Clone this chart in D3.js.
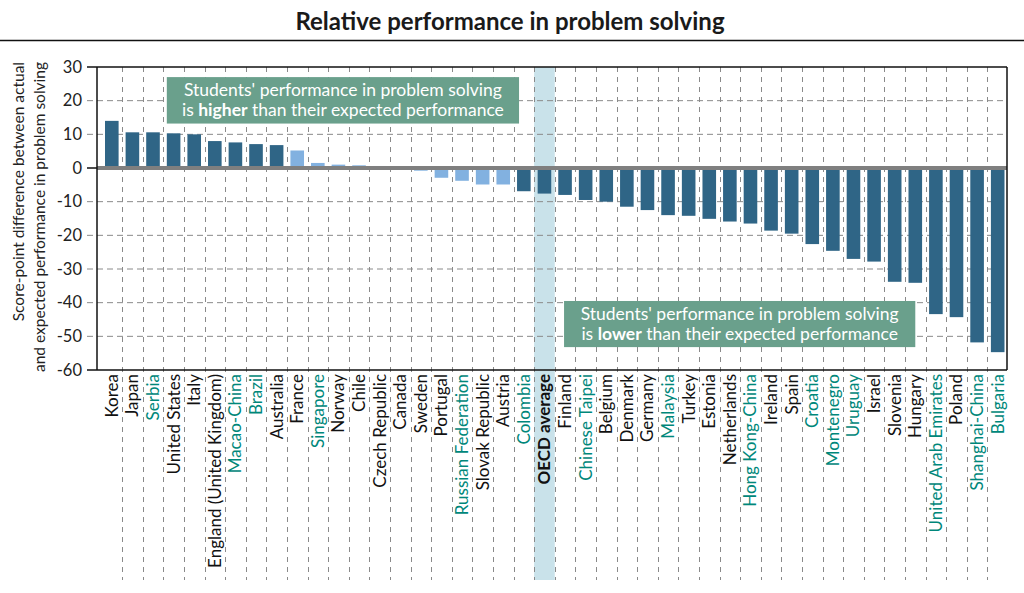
<!DOCTYPE html>
<html><head><meta charset="utf-8">
<script src="https://cdn.jsdelivr.net/npm/d3@7"></script>
<style>body{margin:0;background:#fff}svg{display:block;font-family:Lato,"Open Sans",sans-serif}</style>
</head><body><svg id="c" width="1024" height="593"></svg>
<script>
const categories = ["Korea","Japan","Serbia","United States","Italy","England (United Kingdom)","Macao-China","Brazil","Australia","France","Singapore","Norway","Chile","Czech Republic","Canada","Sweden","Portugal","Russian Federation","Slovak Republic","Austria","Colombia","OECD average","Finland","Chinese Taipei","Belgium","Denmark","Germany","Malaysia","Turkey","Estonia","Netherlands","Hong Kong-China","Ireland","Spain","Croatia","Montenegro","Uruguay","Israel","Slovenia","Hungary","United Arab Emirates","Poland","Shanghai-China","Bulgaria"];
const values = [14.0,10.6,10.6,10.3,10.0,8.0,7.6,7.1,6.8,5.2,1.5,1.0,0.8,0.6,0.1,-0.8,-2.9,-3.8,-4.9,-4.9,-6.9,-7.6,-8.0,-9.5,-10.0,-11.5,-12.5,-14.0,-14.2,-15.1,-15.9,-16.5,-18.6,-19.5,-22.6,-24.6,-27.0,-27.8,-33.8,-34.1,-43.4,-44.3,-51.8,-54.7];
const notSignificant = ["France","Singapore","Norway","Chile","Czech Republic","Canada","Sweden","Portugal","Russian Federation","Slovak Republic","Austria"];
const partners = ["Serbia","Macao-China","Brazil","Singapore","Russian Federation","Colombia","Chinese Taipei","Malaysia","Hong Kong-China","Croatia","Montenegro","Uruguay","United Arab Emirates","Shanghai-China","Bulgaria"];
const yTicks = [30,20,10,0,-10,-20,-30,-40,-50,-60];
const title = "Relative performance in problem solving";
const yTitle = ["Score-point difference between actual","and expected performance in problem solving"];
const notes = [
  {from:"United States", to:"Colombia", top:27, bottom:13.2, lines:[["Students' performance in problem solving"],["is ","higher"," than their expected performance"]]},
  {from:"Finland", to:"Hungary", top:-39.5, bottom:-53.2, lines:[["Students' performance in problem solving"],["is ","lower"," than their expected performance"]]}
];

const svg = d3.select("#c");
const L=97, R=1007, T=67, B=370, gridBottom=580;
const x = d3.scaleBand().domain(categories).range([101.5,1008]).paddingInner(0.34).paddingOuter(0.17);
const y = d3.scaleLinear().domain([-60,30]).range([B,T]);
const step = x.step();
const bLeft = c => x(c) - step*x.paddingInner()/2;
const cx = c => x(c) + x.bandwidth()/2;

// title
svg.append("text").attr("x",510).attr("y",30).attr("text-anchor","middle")
  .attr("font-size",24).attr("font-weight",700).attr("fill","#1a1a1a").text(title);
svg.append("line").attr("x1",0).attr("x2",1024).attr("y1",40.5).attr("y2",40.5).attr("stroke","#111").attr("stroke-width",1.5);

// OECD highlight
svg.append("rect").attr("x",bLeft("OECD average")).attr("width",step).attr("y",T).attr("height",gridBottom-T).attr("fill","#c9e2ea");

// horizontal grid
yTicks.filter(t=>t!==30&&t!==-60&&t!==0).forEach(t=>{
  svg.append("line").attr("x1",87).attr("x2",R).attr("y1",y(t)).attr("y2",y(t))
    .attr("stroke","#8a8a8a").attr("stroke-width",1).attr("stroke-dasharray","6,4");
});
// vertical grid
categories.slice(1).forEach(c=>{
  const xx = Math.round(bLeft(c))+0.5;
  svg.append("line").attr("x1",xx).attr("x2",xx).attr("y1",T).attr("y2",gridBottom)
    .attr("stroke","#8a8a8a").attr("stroke-width",1).attr("stroke-dasharray","5,5");
});

// bars
svg.selectAll("rect.bar").data(categories).enter().append("rect").attr("class","bar")
  .attr("x",d=>x(d)).attr("width",x.bandwidth())
  .attr("y",(d,i)=>y(Math.max(0,values[i]))).attr("height",(d,i)=>Math.abs(y(values[i])-y(0)))
  .attr("fill",d=>notSignificant.includes(d)?"#82b1e0":"#2f6586");

// zero line
svg.append("line").attr("x1",L).attr("x2",R).attr("y1",y(0)).attr("y2",y(0)).attr("stroke","#7f7f7f").attr("stroke-width",4);
svg.append("line").attr("x1",87).attr("x2",L).attr("y1",y(0)).attr("y2",y(0)).attr("stroke","#111").attr("stroke-width",1.5);

// frame
svg.append("line").attr("x1",87).attr("x2",R).attr("y1",T).attr("y2",T).attr("stroke","#111").attr("stroke-width",1.5);
svg.append("line").attr("x1",87).attr("x2",R).attr("y1",B).attr("y2",B).attr("stroke","#111").attr("stroke-width",1.5);
svg.append("line").attr("x1",L).attr("x2",L).attr("y1",T).attr("y2",B).attr("stroke","#111").attr("stroke-width",1.5);
svg.append("line").attr("x1",R).attr("x2",R).attr("y1",T).attr("y2",B).attr("stroke","#111").attr("stroke-width",1.5);

// y tick labels
yTicks.forEach(t=>{
  svg.append("text").attr("x",82).attr("y",y(t)).attr("dy","0.35em").attr("text-anchor","end")
    .attr("font-size",16.5).attr("fill","#222").text(t);
});

// y title
yTitle.forEach((s,i)=>{
  svg.append("text").attr("transform",`translate(${24+i*21},${T-5}) rotate(-90)`).attr("text-anchor","end")
    .attr("font-size",15.5).attr("fill","#222").text(s);
});

// category labels
categories.forEach(c=>{
  svg.append("text").attr("transform",`translate(${cx(c)+6},${B+4}) rotate(-90)`).attr("text-anchor","end")
    .attr("font-size",17).attr("font-weight",c==="OECD average"?700:400)
    .attr("fill",partners.includes(c)?"#00877a":"#111").text(c);
});

// annotation boxes
notes.forEach((n,k)=>{
  const x0 = k===0 ? x(n.from) : cx(n.from)-1;
  const x1 = k===0 ? x(n.to)+2 : cx(n.to);
  const y0 = y(n.top), y1 = y(n.bottom);
  svg.append("rect").attr("x",x0).attr("y",y0).attr("width",x1-x0).attr("height",y1-y0).attr("fill","#6aa08c");
  n.lines.forEach((parts,i)=>{
    const t = svg.append("text").attr("x",(x0+x1)/2).attr("y",y0+19+i*20).attr("text-anchor","middle")
      .attr("font-size",17.5).attr("fill","#fff");
    parts.forEach((p,j)=>t.append("tspan").attr("font-weight",j===1?700:400).text(p));
  });
});
</script></body></html>
